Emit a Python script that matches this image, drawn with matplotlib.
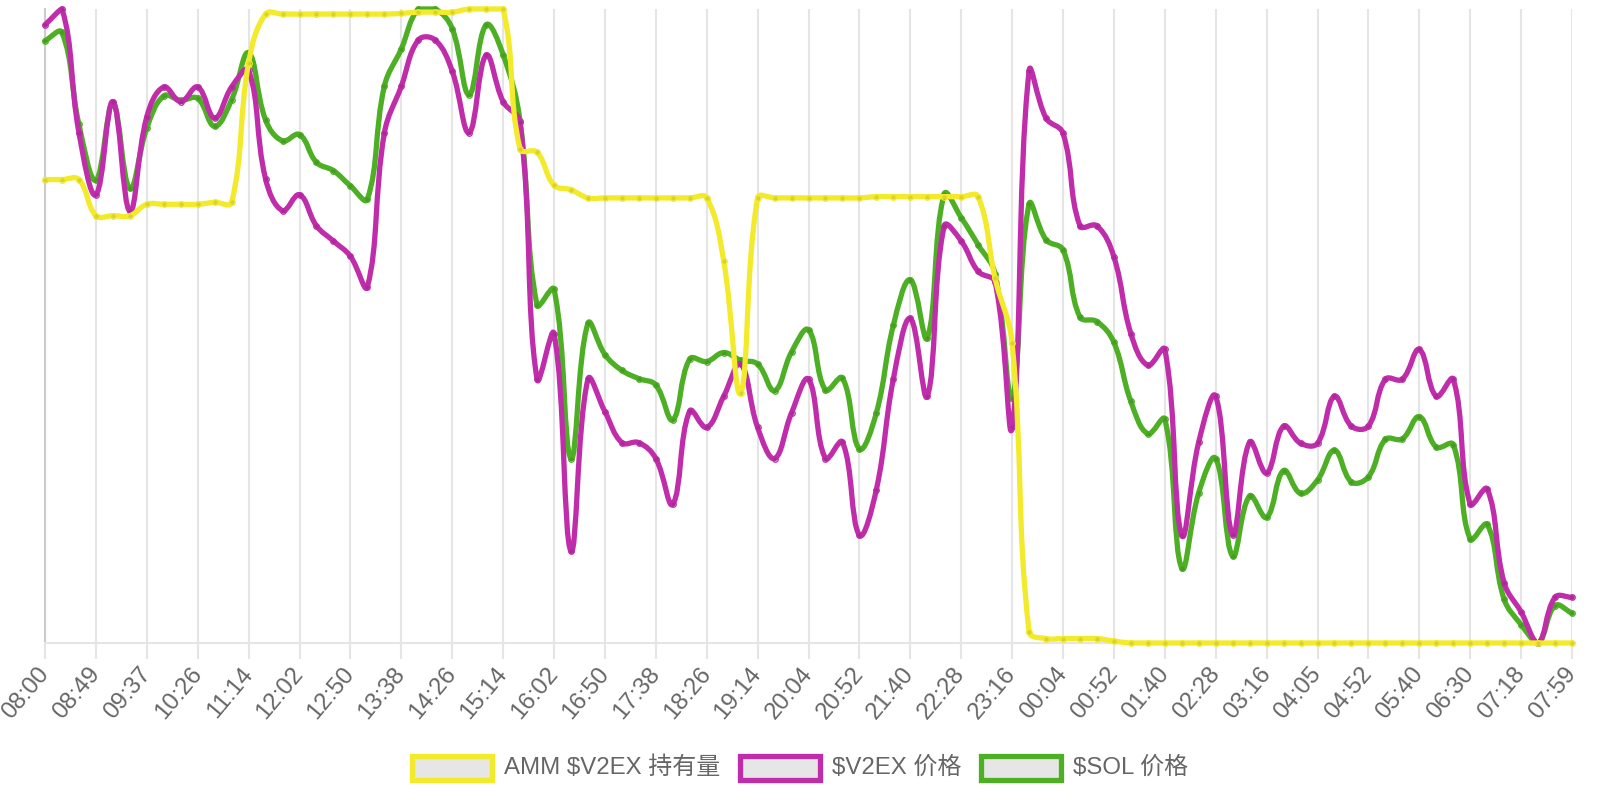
import numpy as np
import matplotlib
matplotlib.use("Agg")
import matplotlib.pyplot as plt
from matplotlib.path import Path
from matplotlib.patches import PathPatch, Rectangle

plt.rcParams['font.family'] = ['Liberation Sans', 'Noto Sans CJK SC', 'DejaVu Sans']

# ---------------- data (normalised 0-100 per series) ----------------
tick_labels = ['08:00', '08:49', '09:37', '10:26', '11:14', '12:02', '12:50', '13:38',
               '14:26', '15:14', '16:02', '16:50', '17:38', '18:26', '19:14', '20:04',
               '20:52', '21:40', '22:28', '23:16', '00:04', '00:52', '01:40', '02:28',
               '03:16', '04:05', '04:52', '05:40', '06:30', '07:18', '07:59']

series_names = ['AMM $V2EX 持有量', '$V2EX 价格', '$SOL 价格']

amm_holding = [73.1, 73.1, 73.1, 67.4, 67.4, 67.4, 69.2, 69.2, 69.2, 69.2,
               69.5, 69.5, 91.5, 99.2, 99.2, 99.2, 99.2, 99.2, 99.2, 99.2,
               99.2, 99.3, 99.5, 99.5, 99.5, 100, 100, 100, 77.9, 77.4,
               72.2, 71.5, 70.2, 70.2, 70.2, 70.2, 70.2, 70.2, 70.2, 70.2,
               60.3, 39.4, 70.2, 70.2, 70.2, 70.2, 70.2, 70.2, 70.2, 70.4,
               70.4, 70.4, 70.4, 70.4, 70.4, 70.4, 57.5, 47.3, 1.8, 0.7,
               0.7, 0.7, 0.7, 0.3, 0, 0, 0, 0, 0, 0,
               0, 0, 0, 0, 0, 0, 0, 0, 0, 0,
               0, 0, 0, 0, 0, 0, 0, 0, 0, 0, 0]

v2ex_price = [97.5, 100, 80.5, 70.7, 85.4, 68.1, 83.0, 87.7, 85.4, 87.7,
              82.8, 87.7, 90.3, 73.2, 68.2, 70.7, 65.8, 63.4, 61.0, 56.2,
              80.4, 87.8, 95.1, 95.1, 90.2, 80.5, 92.7, 85.4, 82.1, 41.6,
              48.8, 14.5, 41.6, 36.5, 31.6, 31.6, 29.1, 21.9, 36.6, 34.0,
              38.9, 44.0, 34.0, 29.1, 36.3, 41.6, 29.1, 31.7, 17.0, 24.2,
              41.6, 51.2, 38.9, 65.8, 63.4, 58.6, 56.9, 34.0, 90.2, 82.8,
              80.4, 65.8, 65.8, 60.9, 48.8, 43.8, 46.3, 17.0, 31.7, 38.9,
              17.1, 31.7, 26.8, 34.2, 31.5, 31.5, 38.9, 34.2, 34.2, 41.6,
              41.6, 46.3, 38.9, 41.6, 21.9, 24.3, 9.5, 4.9, 0, 7.2, 7.2]

sol_price = [95.0, 96.3, 81.8, 73.0, 85.1, 71.7, 81.2, 86.3, 85.6, 85.9,
             81.5, 85.7, 93.1, 82.5, 79.2, 80.2, 75.8, 74.5, 72.1, 70.0,
             87.8, 93.7, 100, 100, 96.9, 86.5, 97.5, 92.8, 82.3, 53.3,
             55.8, 29.1, 50.4, 45.5, 43.0, 41.7, 40.7, 35.2, 44.8, 44.4,
             45.8, 44.6, 44.0, 39.8, 45.9, 49.4, 39.9, 41.8, 30.6, 36.3,
             50.1, 57.3, 48.1, 70.8, 67.1, 62.8, 58.2, 38.6, 69.2, 63.6,
             62.0, 51.4, 50.7, 47.4, 38.1, 33.0, 35.3, 11.8, 23.7, 29.1,
             13.7, 23.2, 19.8, 27.2, 23.6, 25.7, 30.4, 25.4, 26.2, 32.1,
             32.2, 35.7, 30.9, 31.3, 16.4, 18.7, 6.9, 2.9, 0, 5.9, 4.7]

colors = ['#f3ea2b', '#c02dab', '#4caf24']

# ---------------- figure ----------------
W, H = 1600, 800
fig = plt.figure(figsize=(16, 8), dpi=100)
L, R, T, B = 45, 1572, 9, 643
ax = fig.add_axes([L / W, 1 - B / H, (R - L) / W, (B - T) / H])
n = len(amm_holding)
xs = np.arange(n)
ax.set_xlim(0, n - 1)
ax.set_ylim(0, 100)

for s in ['top', 'right']:
    ax.spines[s].set_visible(False)
ax.spines['left'].set_color('#cccccc')
ax.spines['left'].set_linewidth(1.5)
ax.spines['bottom'].set_color('#e5e5e5')
ax.spines['bottom'].set_linewidth(1.5)
ax.set_yticks([])

step = 3
ax.set_xticks(xs[::step])
ax.set_xticklabels(tick_labels, rotation=50, ha='right', va='center',
                   rotation_mode='anchor')
ax.tick_params(axis='x', length=11.5, width=1.5, color='#e5e5e5',
               labelcolor='#666666', labelsize=17.3, pad=8)
ax.grid(axis='x', color='#e5e5e5', linewidth=1.5)
ax.set_axisbelow(True)


def chartjs_path(ax, x, y, tension=0.4):
    pts = ax.transData.transform(np.column_stack([x, y]))
    m = len(pts)
    bb = ax.bbox
    cp_prev = np.zeros_like(pts)
    cp_next = np.zeros_like(pts)
    for i in range(m):
        prev = pts[i - 1] if i > 0 else pts[i]
        cur = pts[i]
        nxt = pts[i + 1] if i < m - 1 else pts[i]
        d01 = np.hypot(*(cur - prev))
        d12 = np.hypot(*(nxt - cur))
        tot = d01 + d12
        s01 = d01 / tot if tot else 0.0
        s12 = d12 / tot if tot else 0.0
        cp_prev[i] = cur - tension * s01 * (nxt - prev)
        cp_next[i] = cur + tension * s12 * (nxt - prev)
    for arr in (cp_prev, cp_next):
        arr[:, 0] = np.clip(arr[:, 0], bb.x0, bb.x1)
        arr[:, 1] = np.clip(arr[:, 1], bb.y0, bb.y1)
    verts = [pts[0]]
    codes = [Path.MOVETO]
    for i in range(m - 1):
        verts += [cp_next[i], cp_prev[i + 1], pts[i + 1]]
        codes += [Path.CURVE4] * 3
    verts = ax.transData.inverted().transform(np.array(verts))
    return Path(verts, codes)


all_series = [amm_holding, v2ex_price, sol_price]
# draw last dataset first so the first one ends up on top
for k in [2, 1, 0]:
    y = np.array(all_series[k], dtype=float)
    path = chartjs_path(ax, xs, y)
    patch = PathPatch(path, facecolor='none', edgecolor=colors[k], lw=3.8,
                      capstyle='round', joinstyle='round', clip_on=False,
                      zorder=3 + (2 - k) * 2)
    ax.add_patch(patch)
    ax.plot(xs, y, 'o', ms=4.0, mfc=(0, 0, 0, 0.1), mec=colors[k], mew=0.9,
            clip_on=False, zorder=4 + (2 - k) * 2)

# ---------------- legend (Chart.js style) ----------------
renderer = fig.canvas.get_renderer()
fs = 17.3
box_w, box_h, gap_txt, gap_item = 80, 24, 12, 20
texts = []
widths = []
for name in series_names:
    t = fig.text(0, 0, name, fontsize=fs, color='#666666', parse_math=False,
                 va='center', ha='left')
    texts.append(t)
    widths.append(t.get_window_extent(renderer).width)
total = sum(box_w + gap_txt + w for w in widths) + gap_item * (len(widths) - 1)
xcur = W / 2 - total / 2
yc = 768
for k, name in enumerate(series_names):
    fig.add_artist(Rectangle(((xcur) / W, (H - yc - box_h / 2) / H),
                             box_w / W, box_h / H, transform=fig.transFigure,
                             facecolor='#e6e6e6', edgecolor=colors[k], lw=3.8))
    texts[k].set_position(((xcur + box_w + gap_txt) / W, (H - yc) / H))
    xcur += box_w + gap_txt + widths[k] + gap_item

fig.savefig('out.png', dpi=100)
